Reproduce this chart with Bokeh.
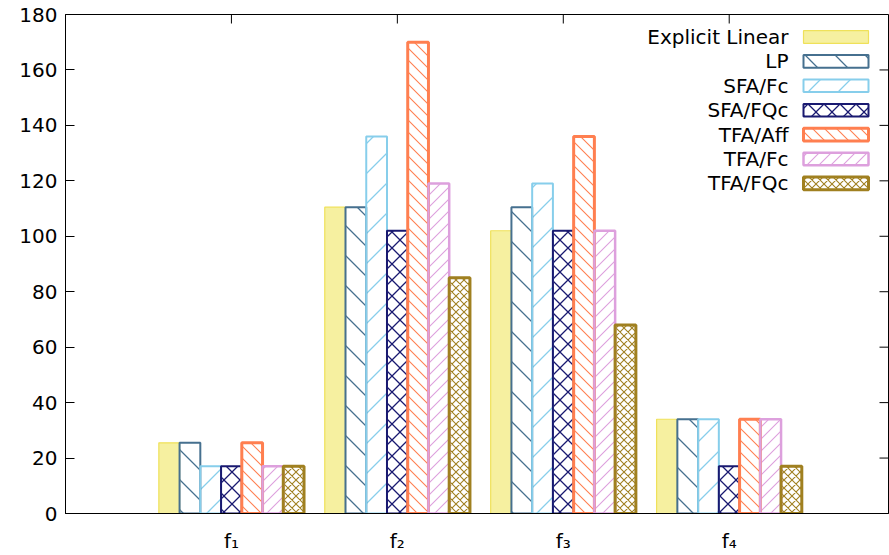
import base64
from bokeh.plotting import figure
from bokeh.models import (FixedTicker, Label, BoxAnnotation, Range1d, ImageURLTexture)
from bokeh.embed import file_html
from bokeh.resources import INLINE

# ---- data ----
categories = ["f\u2081", "f\u2082", "f\u2083", "f\u2084"]
series_names = ["Explicit Linear", "LP", "SFA/Fc", "SFA/FQc", "TFA/Aff", "TFA/Fc", "TFA/FQc"]
explicit_linear = [25.5, 110.5, 102, 34]
lp = [25.5, 110.5, 110.5, 34]
sfa_fc = [17, 136, 119, 34]
sfa_fqc = [17, 102, 102, 17]
tfa_aff = [25.5, 170, 136, 34]
tfa_fc = [17, 119, 102, 34]
tfa_fqc = [17, 85, 68, 17]
series_values = [explicit_linear, lp, sfa_fc, sfa_fqc, tfa_aff, tfa_fc, tfa_fqc]
y_ticks = [0, 20, 40, 60, 80, 100, 120, 140, 160, 180]


def texture(kind, period, color, weight):
    """45-degree line / cross-hatch tile as an SVG texture."""
    P = period
    segs = []
    if kind in ("\\", "x"):
        segs += [(-P, -P, 2 * P, 2 * P), (-P, 0, P, 2 * P), (0, -P, 2 * P, P)]
    if kind in ("/", "x"):
        segs += [(-P, P, P, -P), (-P, 2 * P, 2 * P, -P), (-P, 3 * P, 2 * P, 0)]
    d = " ".join(f"M{a},{b} L{c},{e}" for a, b, c, e in segs)
    svg = (f'<svg xmlns="http://www.w3.org/2000/svg" width="{P}" height="{P}" '
           f'viewBox="0 0 {P} {P}"><path d="{d}" stroke="{color}" '
           f'stroke-width="{weight}" fill="none"/></svg>')
    url = "data:image/svg+xml;base64," + base64.b64encode(svg.encode()).decode()
    return ImageURLTexture(url=url, repetition="repeat")


# ---- styles ----
styles = [
    dict(line_color="#efe15a", line_width=1.2, fill_color="#f6f0a0", fill_alpha=1.0, hatch=None),
    dict(line_color="#46708f", line_width=2, fill_color="white", fill_alpha=0.0, hatch=("\\", 30, 1.3)),
    dict(line_color="#87ceeb", line_width=2, fill_color="white", fill_alpha=0.0, hatch=("/", 30, 1.3)),
    dict(line_color="#191970", line_width=2, fill_color="white", fill_alpha=0.0, hatch=("x", 16, 1.3)),
    dict(line_color="#ff7f50", line_width=3, fill_color="white", fill_alpha=0.0, hatch=("\\", 12, 1.1)),
    dict(line_color="#dda0dd", line_width=2.5, fill_color="white", fill_alpha=0.0, hatch=("/", 12, 1.1)),
    dict(line_color="#a08020", line_width=3, fill_color="white", fill_alpha=0.0, hatch=("x", 8, 1.1)),
]

FONT = "DejaVu Sans"
n_series = len(series_names)
bar_w = 1.0 / (n_series + 1)
x_lo, x_hi = -1.0, 3.96
y_lo, y_hi = 0, 180

p = figure(width=889, height=555, output_backend="svg", toolbar_location=None,
           x_range=Range1d(x_lo, x_hi), y_range=Range1d(y_lo, y_hi),
           min_border_left=65, min_border_right=1, min_border_top=14, min_border_bottom=42)
p.background_fill_color = "white"
p.border_fill_color = "white"
p.outline_line_color = "black"
p.outline_line_width = 1
p.xgrid.visible = False
p.ygrid.visible = False


def hatch_kwargs(tag, st):
    if not st["hatch"]:
        return {}
    kind, period, weight = st["hatch"]
    name = f"tex{tag}"
    return dict(hatch_pattern=name,
                hatch_extra={name: texture(kind, period, st["line_color"], weight)},
                hatch_alpha=1.0)


for j, (name, vals, st) in enumerate(zip(series_names, series_values, styles)):
    xs = [i + (j - (n_series - 1) / 2) * bar_w for i in range(len(categories))]
    # hatch of each bar (data units, beneath the bar outline)
    if st["hatch"]:
        for i, (xc, v) in enumerate(zip(xs, vals)):
            bkw = dict(left=xc - bar_w / 2, right=xc + bar_w / 2, bottom=0, top=v,
                       line_alpha=0.0, fill_alpha=0.0, level="underlay")
            bkw.update(hatch_kwargs(f"{j}_{i}", st))
            p.add_layout(BoxAnnotation(**bkw))
    p.vbar(x=xs, top=vals, bottom=0, width=bar_w,
           line_color=st["line_color"], line_width=st["line_width"],
           fill_color=st["fill_color"], fill_alpha=st["fill_alpha"])

xticks = list(range(len(categories)))
overrides = {i: c for i, c in enumerate(categories)}

# axes
for ax in (p.xaxis[0], p.yaxis[0]):
    ax.axis_line_color = "black"
    ax.axis_line_width = 1
    ax.major_tick_out = 0
    ax.minor_tick_in = 0
    ax.minor_tick_out = 0
    ax.major_tick_line_color = "black"
    ax.major_label_text_font = FONT
    ax.major_label_text_color = "black"
    ax.major_label_text_font_size = "20px"

p.xaxis.ticker = FixedTicker(ticks=xticks)
p.xaxis.major_label_overrides = overrides
p.xaxis.major_tick_in = 0
p.xaxis.major_label_standoff = 15

p.yaxis.ticker = FixedTicker(ticks=y_ticks)
p.yaxis.major_tick_in = 9
p.yaxis.major_label_standoff = 8

# mirrored inward ticks on top and right (outer half of each dash is clipped by the frame)
p.scatter(x=xticks, y=[y_hi] * len(xticks), marker="dash", size=18, angle=1.5708,
          line_color="black", line_width=1)
p.scatter(x=[x_hi] * len(y_ticks), y=y_ticks, marker="dash", size=18,
          line_color="black", line_width=1)

# legend (text left, sample right), screen units relative to frame bottom-left
frame_h = 555 - 14 - 42
row0 = 22.5
row_step = 24.4
text_right = 723
box_left, box_right = 738, 803
box_half = 6.3
for j, (name, st) in enumerate(zip(series_names, styles)):
    cy = frame_h - row0 - j * row_step
    p.add_layout(Label(x=text_right, y=cy, x_units="screen", y_units="screen",
                       text=name, text_align="right", text_baseline="middle",
                       text_font=FONT, text_font_size="20px", text_color="black"))
    bkw = dict(left=box_left, right=box_right, bottom=cy - box_half, top=cy + box_half,
               left_units="screen", right_units="screen", top_units="screen", bottom_units="screen",
               line_color=st["line_color"], line_width=st["line_width"], line_alpha=1.0,
               fill_color=st["fill_color"], fill_alpha=st["fill_alpha"], level="overlay")
    bkw.update(hatch_kwargs(f"leg{j}", st))
    p.add_layout(BoxAnnotation(**bkw))

open("out.html", "w").write(file_html(p, INLINE))
